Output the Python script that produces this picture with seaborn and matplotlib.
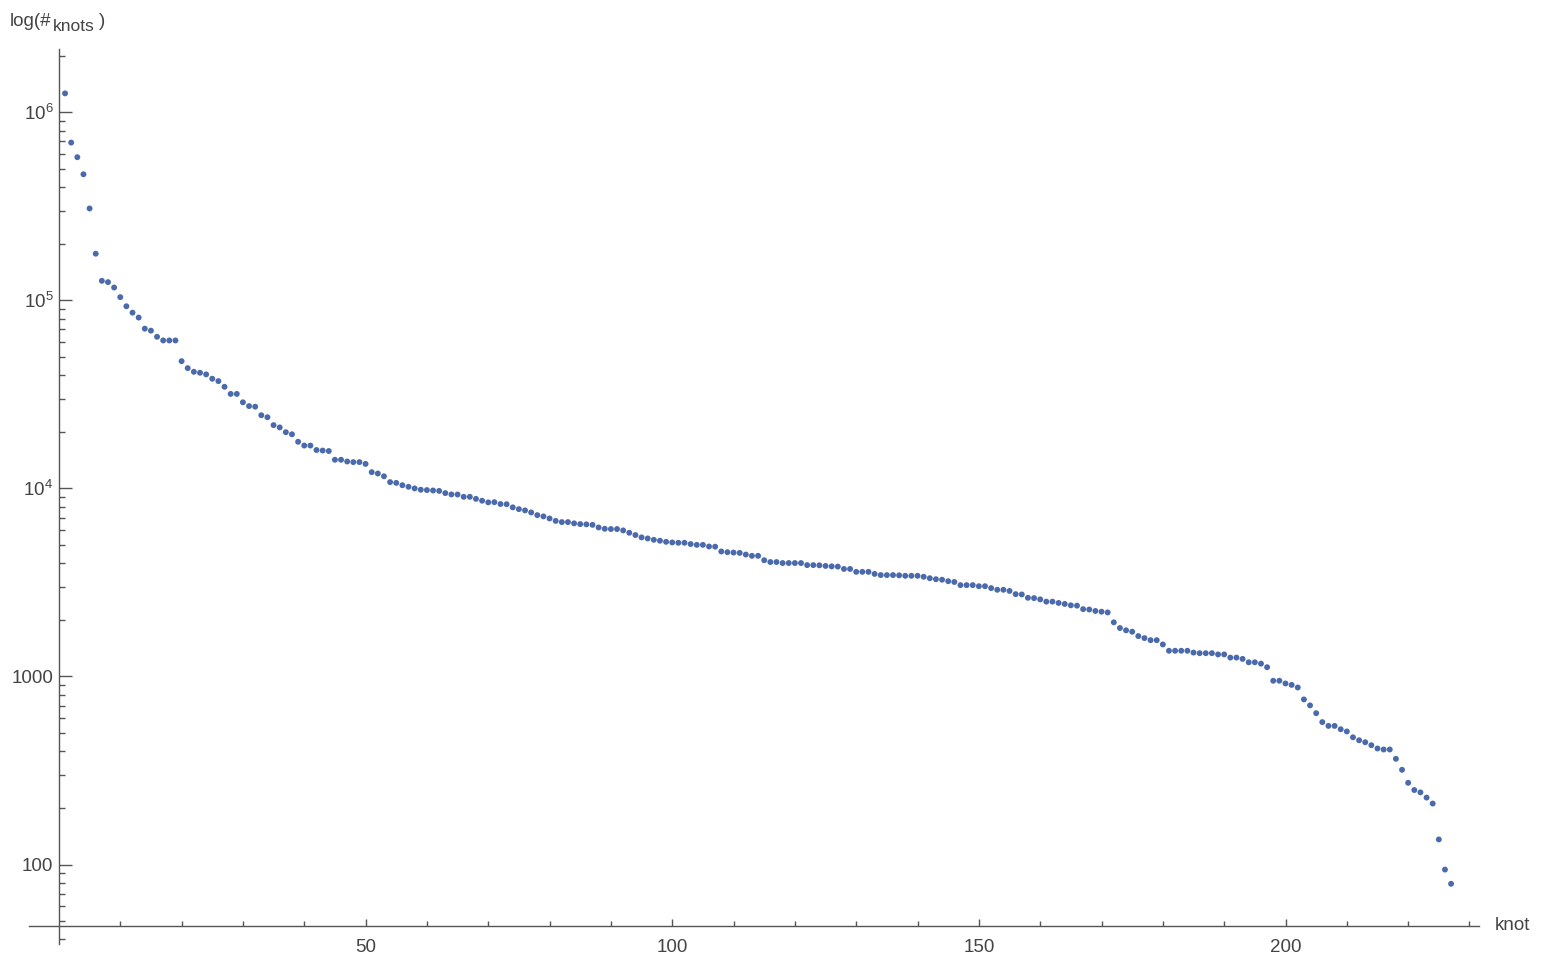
import numpy as np
import pandas as pd
import seaborn as sns
import matplotlib.pyplot as plt
from matplotlib.ticker import FixedLocator, FixedFormatter, LogLocator, NullFormatter

# ------------------ DATOS ------------------ #

counts = [
    1.26e6, 6.9e5, 5.77e5, 4.68e5, 3.08e5, 1.77e5, 1.27e5, 1.25e5, 1.17e5, 1.04e5,
    9.3e4, 8.6e4, 8.1e4, 7.07e4, 6.9e4, 6.4e4, 6.12e4, 6.12e4, 6.12e4, 4.75e4,
    4.36e4, 4.17e4, 4.12e4, 4.04e4, 3.83e4, 3.72e4, 3.47e4, 3.18e4, 3.18e4, 2.87e4,
    2.74e4, 2.72e4, 2.45e4, 2.39e4, 2.17e4, 2.11e4, 1.99e4, 1.94e4, 1.77e4, 1.69e4,
    1.69e4, 1.60e4, 1.59e4, 1.58e4, 1.42e4, 1.42e4, 1.39e4, 1.38e4, 1.38e4, 1.35e4,
    1.22e4, 1.20e4, 1.16e4, 1.08e4, 1.07e4, 1.04e4, 1.02e4, 1.00e4, 9840, 9800,
    9750, 9700, 9440, 9290, 9280, 9020, 9020, 8800, 8600, 8430,
    8450, 8260, 8240, 7930, 7760, 7640, 7450, 7210, 7100, 6920,
    6720, 6620, 6620, 6520, 6460, 6440, 6400, 6200, 6100, 6080,
    6080, 5980, 5810, 5650, 5490, 5420, 5330, 5270, 5200, 5160,
    5140, 5140, 5060, 5010, 5010, 4910, 4900, 4620, 4580, 4560,
    4540, 4450, 4380, 4380, 4150, 4060, 4060, 4010, 4010, 4010,
    4010, 3910, 3910, 3900, 3870, 3850, 3840, 3730, 3730, 3600,
    3600, 3600, 3510, 3460, 3460, 3460, 3450, 3430, 3430, 3430,
    3390, 3330, 3290, 3270, 3210, 3180, 3060, 3060, 3060, 3020,
    3020, 2950, 2890, 2890, 2850, 2740, 2730, 2620, 2610, 2570,
    2500, 2500, 2460, 2430, 2390, 2380, 2280, 2270, 2230, 2210,
    2190, 1940, 1810, 1760, 1730, 1640, 1600, 1560, 1560, 1480,
    1370, 1370, 1370, 1370, 1340, 1330, 1330, 1330, 1310, 1310,
    1260, 1260, 1240, 1190, 1190, 1170, 1120, 949, 949, 918,
    902, 874, 755, 702, 638, 572, 546, 546, 524, 510,
    475, 458, 447, 431, 414, 409, 409, 365, 319, 272,
    249, 242, 227, 211, 136, 94, 79,
]
knots = list(range(1, len(counts) + 1))

y_ticks = [100, 1000, 1e4, 1e5, 1e6]
y_tick_labels = ["100", "1000", r"$10^4$", r"$10^5$", r"$10^6$"]
x_ticks = [50, 100, 150, 200]

df = pd.DataFrame({"knot": knots, "count": counts})

# ------------------ ESTILO ------------------ #

sns.set_style("white")
plt.rcParams["font.family"] = ["Liberation Sans", "DejaVu Sans"]
plt.rcParams["mathtext.fontset"] = "custom"
plt.rcParams["mathtext.rm"] = "Liberation Sans"
plt.rcParams["mathtext.it"] = "Liberation Sans:italic"

gris = "#555555"
texto = "#444444"

# ------------------ GRAFICO ------------------ #

fig = plt.figure(figsize=(15.46, 9.68), dpi=100)
ax = fig.add_axes([29 / 1546, 24 / 968, 1450 / 1546, 895 / 968])

sns.scatterplot(data=df, x="knot", y="count", ax=ax, color="#4a6aab",
                s=18, edgecolor="none", linewidth=0)

ax.set_yscale("log")
ax.set_xlim(-4.88, 231.55)
ax.set_ylim(37.8, 2.17e6)

# ejes estilo Mathematica: cruzan en (0, 47)
for lado in ["top", "right"]:
    ax.spines[lado].set_visible(False)
ax.spines["left"].set_position(("data", 0))
ax.spines["bottom"].set_position(("data", 47))
for lado in ["left", "bottom"]:
    ax.spines[lado].set_color(gris)
    ax.spines[lado].set_linewidth(1.0)

ax.xaxis.set_major_locator(FixedLocator(x_ticks))
ax.xaxis.set_minor_locator(FixedLocator([v for v in range(10, 231, 10) if v % 50 != 0]))
ax.yaxis.set_major_locator(FixedLocator(y_ticks))
ax.yaxis.set_major_formatter(FixedFormatter(y_tick_labels))
ax.yaxis.set_minor_locator(LogLocator(base=10, subs=np.arange(2, 10), numticks=20))
ax.yaxis.set_minor_formatter(NullFormatter())

ax.tick_params(axis="both", which="both", direction="in", color=gris,
               labelcolor=texto, labelsize=13.5, width=1.0,
               bottom=True, left=True, top=False, right=False)
ax.tick_params(axis="x", which="major", length=5, pad=9)
ax.tick_params(axis="x", which="minor", length=3.6)
ax.tick_params(axis="y", which="major", length=9.5, pad=4)
ax.tick_params(axis="y", which="minor", length=4.5)

ax.set_xlabel("")
ax.set_ylabel("")
ax.grid(False)

# etiqueta del eje y: log(#_knots) con subindice
fig.text(10 / 1546, 1 - 26 / 968, "log(#", fontsize=13.5, color=texto,
         ha="left", va="baseline")
fig.text(53 / 1546, 1 - 31 / 968, "knots", fontsize=12.5, color=texto,
         ha="left", va="baseline")
fig.text(99 / 1546, 1 - 26 / 968, ")", fontsize=13.5, color=texto,
         ha="left", va="baseline")
fig.text(1495 / 1546, 1 - 926 / 968, "knot", fontsize=13.5,
         color=texto, ha="left", va="center")

# ------------------ GUARDAR ------------------ #

plt.savefig("out.png", dpi=100)
plt.close()
